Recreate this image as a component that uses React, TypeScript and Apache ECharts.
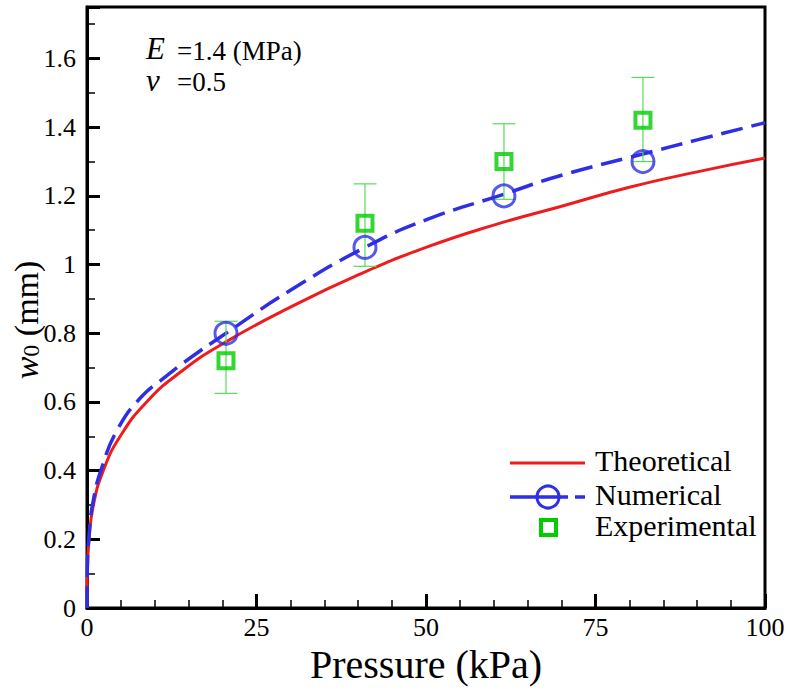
import React, { useEffect, useRef } from "react";
import * as echarts from "echarts";

const SERIF = "Liberation Serif, Times New Roman, DejaVu Serif, serif";

// Theoretical curve (red, solid)
const pressureTheory = [0, 0.05, 0.3, 0.95, 2.4, 4.9, 8.8, 14, 20.5, 30, 40, 50, 60, 70, 80, 90, 100];
const wTheory = [0, 0.1, 0.2, 0.3, 0.4, 0.5, 0.6, 0.69, 0.775, 0.876, 0.97, 1.05, 1.115, 1.17, 1.225, 1.27, 1.31];

// Numerical curve (blue, dashed)
const pressureNum = [0, 0.05, 0.3, 0.9, 2.2, 4.5, 7.8, 11.5, 15, 20.5, 30, 41, 50, 61.5, 70, 82, 90, 100];
const wNum = [0, 0.11, 0.21, 0.31, 0.41, 0.52, 0.61, 0.672, 0.725, 0.8, 0.925, 1.05, 1.13, 1.205, 1.26, 1.322, 1.363, 1.413];

// Numerical markers (circles)
const pressureNumMarks = [20.5, 41, 61.5, 82];
const wNumMarks = [0.8, 1.05, 1.2, 1.3];

// Experimental (squares with error bars)
const pressureExp = [20.5, 41, 61.5, 82];
const wExp = [0.72, 1.12, 1.3, 1.42];
const wExpLow = [0.625, 0.995, 1.19, 1.3];
const wExpHigh = [0.835, 1.235, 1.41, 1.545];

const xTicks = [0, 25, 50, 75, 100];
const legendNames = ["Theoretical", "Numerical", "Experimental"];

const RED = "#ee1c1c";
const BLUE = "#2e2ee6";
const GREEN = "#00cc00";
const LIGHTGREEN = "#55dd55";

export default function App() {
  const ref = useRef<HTMLDivElement>(null);

  useEffect(() => {
    if (!ref.current) return;
    const chart = echarts.init(ref.current, null, { renderer: "svg" });

    const option: any = {
      animation: false,
      backgroundColor: "#fff",
      textStyle: { fontFamily: SERIF },
      grid: {
        left: 87,
        right: 25,
        top: 7,
        bottom: 89,
        show: true,
        borderColor: "#000",
        borderWidth: 3,
        backgroundColor: "transparent",
        containLabel: false,
        outerBoundsMode: "none",
      },
      xAxis: {
        type: "value",
        min: xTicks[0],
        max: xTicks[xTicks.length - 1],
        interval: 25,
        name: "Pressure (kPa)",
        nameLocation: "middle",
        nameGap: 36,
        nameTextStyle: { fontFamily: SERIF, fontSize: 40, color: "#000" },
        axisLine: { show: true, onZero: false, lineStyle: { color: "#000", width: 3 } },
        axisTick: { show: true, inside: true, length: 14, lineStyle: { color: "#000", width: 3 } },
        minorTick: { show: true, splitNumber: 5, length: 8, lineStyle: { color: "#000", width: 1.5 } },
        splitLine: { show: false },
        axisLabel: { fontFamily: SERIF, fontSize: 26, color: "#000", margin: 6 },
      },
      yAxis: {
        type: "value",
        min: 0,
        max: 1.75,
        interval: 0.2,
        axisLine: { show: true, onZero: false, lineStyle: { color: "#000", width: 3 } },
        axisTick: { show: true, inside: true, length: 13, lineStyle: { color: "#000", width: 3 } },
        minorTick: { show: true, splitNumber: 2, length: 8, lineStyle: { color: "#000", width: 1.5 } },
        splitLine: { show: false },
        axisLabel: {
          fontFamily: SERIF,
          fontSize: 26,
          color: "#000",
          margin: 11,
          formatter: (v: number) => {
            const k = v / 0.2;
            if (Math.abs(k - Math.round(k)) > 1e-6) return "";
            return String(+v.toFixed(2));
          },
        },
      },
      series: [
        {
          name: legendNames[0],
          type: "line",
          data: pressureTheory.map((p, i) => [p, wTheory[i]]),
          smooth: 0.5,
          showSymbol: false,
          symbol: "none",
          lineStyle: { color: RED, width: 3 },
          z: 2,
        },
        {
          name: legendNames[1],
          type: "line",
          data: pressureNum.map((p, i) => [p, wNum[i]]),
          smooth: 0.5,
          showSymbol: false,
          symbol: "none",
          lineStyle: { color: BLUE, width: 3.5, type: [22, 9] },
          z: 3,
        },
        {
          name: "errorbars",
          type: "custom",
          data: pressureExp.map((p, i) => [p, wExpLow[i], wExpHigh[i]]),
          encode: { x: 0, y: [1, 2] },
          renderItem: (params: any, api: any) => {
            const x = api.value(0);
            const lo = api.coord([x, api.value(1)]);
            const hi = api.coord([x, api.value(2)]);
            const half = 11.5;
            const style = { stroke: LIGHTGREEN, lineWidth: 1.2 };
            return {
              type: "group",
              children: [
                { type: "line", shape: { x1: lo[0], y1: lo[1], x2: hi[0], y2: hi[1] }, style },
                { type: "line", shape: { x1: hi[0] - half, y1: hi[1], x2: hi[0] + half, y2: hi[1] }, style },
                { type: "line", shape: { x1: lo[0] - half, y1: lo[1], x2: lo[0] + half, y2: lo[1] }, style },
              ],
            };
          },
          z: 4,
        },
        {
          name: legendNames[2],
          type: "scatter",
          data: pressureExp.map((p, i) => [p, wExp[i]]),
          symbol: "rect",
          symbolSize: 15,
          itemStyle: { color: "rgba(0,0,0,0)", borderColor: GREEN, borderWidth: 4 },
          z: 5,
        },
        {
          name: "numericalMarks",
          type: "scatter",
          data: pressureNumMarks.map((p, i) => [p, wNumMarks[i]]),
          symbol: "circle",
          symbolSize: 22,
          itemStyle: { color: "rgba(0,0,0,0)", borderColor: BLUE, borderWidth: 3 },
          z: 6,
        },
      ],
      graphic: [
        // y-axis title (rotated)
        {
          type: "text",
          x: 26,
          y: 320,
          rotation: Math.PI / 2,
          style: {
            text: "{i|w}{s|0}{n| (mm)}",
            align: "center",
            verticalAlign: "middle",
            fill: "#000",
            rich: {
              i: { fontFamily: SERIF, fontSize: 34, fontStyle: "italic", fill: "#000", lineHeight: 34, verticalAlign: "bottom" },
              s: { fontFamily: SERIF, fontSize: 24, fill: "#000", lineHeight: 34, verticalAlign: "bottom", padding: [6, 0, 0, 0] },
              n: { fontFamily: SERIF, fontSize: 34, fill: "#000", lineHeight: 34, verticalAlign: "bottom" },
            },
          },
        },
        // annotation
        { type: "text", left: 146, top: 33, style: { text: "E", fontFamily: SERIF, fontSize: 31, lineHeight: 30, fontStyle: "italic", fill: "#000" } },
        { type: "text", left: 177, top: 37, style: { text: "=1.4 (MPa)", fontFamily: SERIF, fontSize: 27, lineHeight: 27, fill: "#000" } },
        { type: "text", left: 146, top: 65, style: { text: "ν", fontFamily: SERIF, fontSize: 31, lineHeight: 29, fontStyle: "italic", fill: "#000" } },
        { type: "text", left: 177, top: 68, style: { text: "=0.5", fontFamily: SERIF, fontSize: 27, lineHeight: 27, fill: "#000" } },
        // legend
        { type: "line", shape: { x1: 510, y1: 463, x2: 585, y2: 463 }, style: { stroke: RED, lineWidth: 3 } },
        { type: "line", shape: { x1: 510, y1: 497, x2: 585, y2: 497 }, style: { stroke: BLUE, lineWidth: 3.5, lineDash: [58, 7, 10, 0] } },
        { type: "circle", shape: { cx: 548, cy: 497, r: 11 }, style: { fill: "rgba(0,0,0,0)", stroke: BLUE, lineWidth: 3 } },
        { type: "rect", shape: { x: 541, y: 520, width: 15, height: 15 }, style: { fill: "rgba(0,0,0,0)", stroke: GREEN, lineWidth: 4 } },
        { type: "text", left: 595, top: 445, style: { text: legendNames[0], fontFamily: SERIF, fontSize: 30, fill: "#000" } },
        { type: "text", left: 595, top: 479, style: { text: legendNames[1], fontFamily: SERIF, fontSize: 30, fill: "#000" } },
        { type: "text", left: 595, top: 510, style: { text: legendNames[2], fontFamily: SERIF, fontSize: 30, fill: "#000" } },
      ],
    };

    chart.setOption(option);
    return () => chart.dispose();
  }, []);

  return <div ref={ref} style={{ width: 790, height: 697, position: "absolute", left: 0, top: 0 }} />;
}
